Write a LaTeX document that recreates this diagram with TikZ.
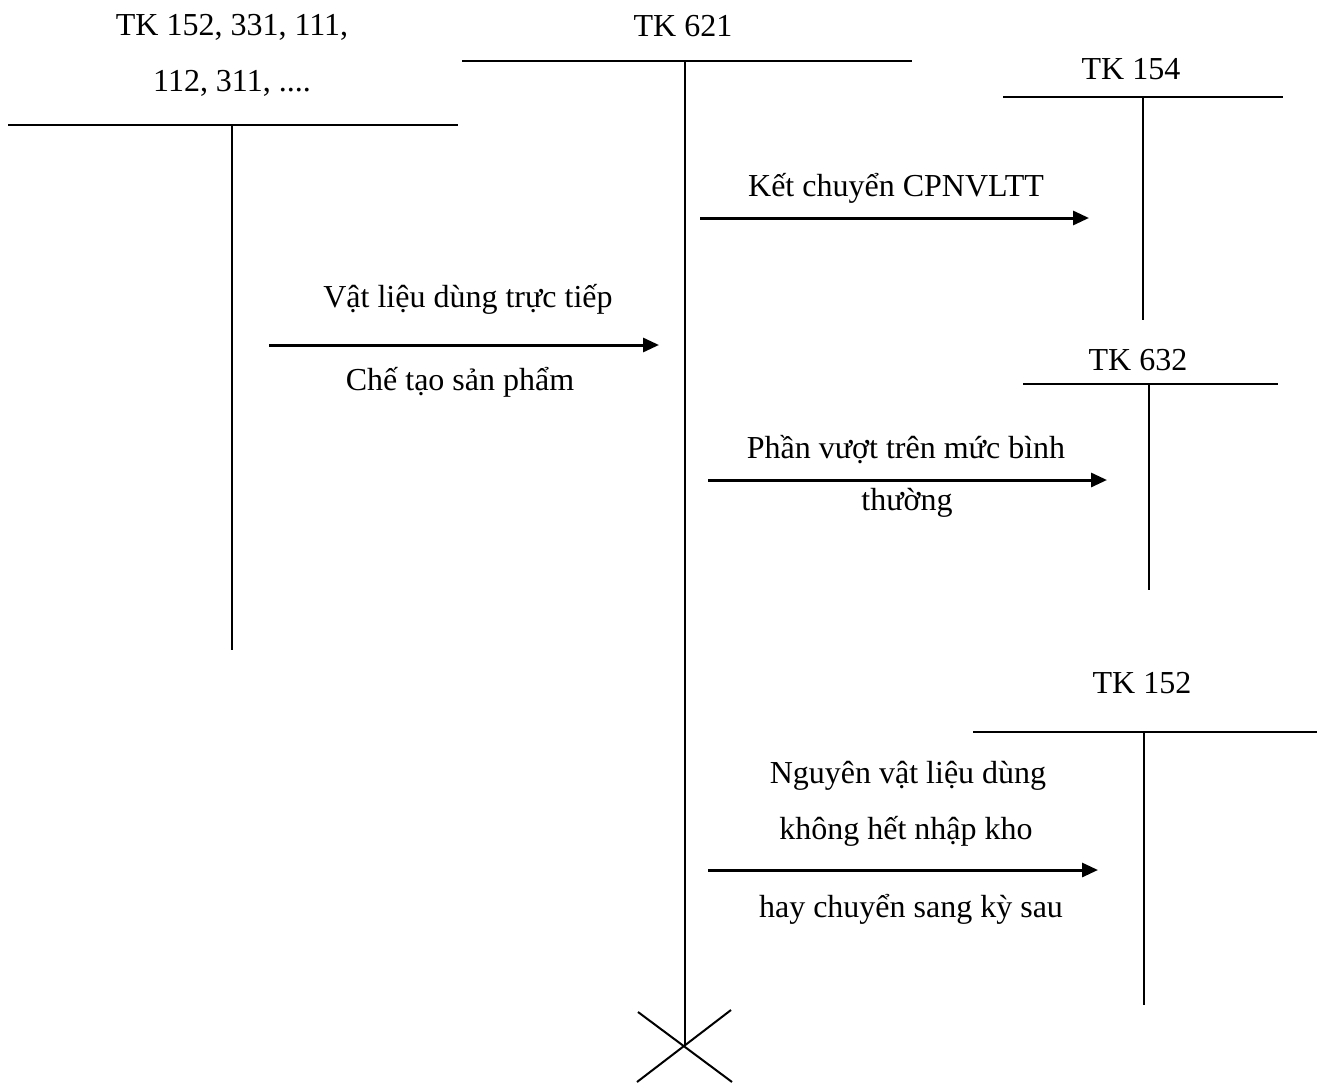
\documentclass[tikz,border=0pt]{standalone}
\usepackage{fontspec}
\setmainfont{Liberation Serif}
\usetikzlibrary{arrows.meta}

\begin{document}
\begin{tikzpicture}[x=1pt, y=-1pt, line width=2pt,
  flow/.style={-{Triangle[length=16pt, width=14pt]}, line width=3pt},
  lbl/.style={anchor=base, inner sep=0pt, font=\fontsize{32}{40}\selectfont}]
  \useasboundingbox (0,0) rectangle (1322,1084);
  % TK 152, 331, 111, ... account
  \coordinate (srcL) at (8,125);
  \coordinate (srcR) at (458,125);
  \coordinate (srcT) at (232,125);
  \coordinate (srcB) at (232,650);
  \draw (srcL) -- (srcR);
  \draw (srcT) -- (srcB);
  \node[lbl] (srcA) at (232,35) {TK 152, 331, 111,};
  \node[lbl] (srcB2) at (232,91) {112, 311, ....};
  % TK 621 account
  \coordinate (mainL) at (462,61);
  \coordinate (mainR) at (912,61);
  \coordinate (mainT) at (685,61);
  \coordinate (mainB) at (685,1046);
  \draw (mainL) -- (mainR);
  \draw (mainT) -- (mainB);
  \node[lbl] (mainA) at (683,36) {TK 621};
  % Cross at the end of TK 621
  \coordinate (crossA) at (638,1012);
  \coordinate (crossB) at (732,1082);
  \coordinate (crossC) at (731,1010);
  \coordinate (crossD) at (637,1082);
  \draw (crossA) -- (crossB);
  \draw (crossC) -- (crossD);
  % TK 154 account
  \coordinate (wipL) at (1003,97);
  \coordinate (wipR) at (1283,97);
  \coordinate (wipT) at (1143,97);
  \coordinate (wipB) at (1143,320);
  \draw (wipL) -- (wipR);
  \draw (wipT) -- (wipB);
  \node[lbl] (wipA) at (1131,79) {TK 154};
  % TK 632 account
  \coordinate (cogsL) at (1023,384);
  \coordinate (cogsR) at (1278,384);
  \coordinate (cogsT) at (1149,384);
  \coordinate (cogsB) at (1149,590);
  \draw (cogsL) -- (cogsR);
  \draw (cogsT) -- (cogsB);
  \node[lbl] (cogsA) at (1138,370) {TK 632};
  % TK 152 account (returned materials)
  \coordinate (matL) at (973,732);
  \coordinate (matR) at (1317,732);
  \coordinate (matT) at (1144,732);
  \coordinate (matB) at (1144,1005);
  \draw (matL) -- (matR);
  \draw (matT) -- (matB);
  \node[lbl] (matA) at (1142,693) {TK 152};
  % Materials used directly
  \coordinate (useS) at (269,345);
  \coordinate (useE) at (659,345);
  \draw[flow] (useS) -- (useE);
  \node[lbl] (useA) at (468,307) {Vật liệu dùng trực tiếp};
  \node[lbl] (useB) at (460,390) {Chế tạo sản phẩm};
  % Transfer to TK 154
  \coordinate (tfS) at (700,218);
  \coordinate (tfE) at (1089,218);
  \draw[flow] (tfS) -- (tfE);
  \node[lbl] (tfA) at (896,196) {Kết chuyển CPNVLTT};
  % Excess over normal level
  \coordinate (exS) at (708,480);
  \coordinate (exE) at (1107,480);
  \draw[flow] (exS) -- (exE);
  \node[lbl] (exA) at (906,458) {Phần vượt trên mức bình};
  \node[lbl] (exB) at (907,510) {thường};
  % Unused materials
  \coordinate (retS) at (708,870);
  \coordinate (retE) at (1098,870);
  \draw[flow] (retS) -- (retE);
  \node[lbl] (retA) at (908,783) {Nguyên vật liệu dùng};
  \node[lbl] (retB) at (906,839) {không hết nhập kho};
  \node[lbl] (retC) at (911,917) {hay chuyển sang kỳ sau};
\end{tikzpicture}
\end{document}
